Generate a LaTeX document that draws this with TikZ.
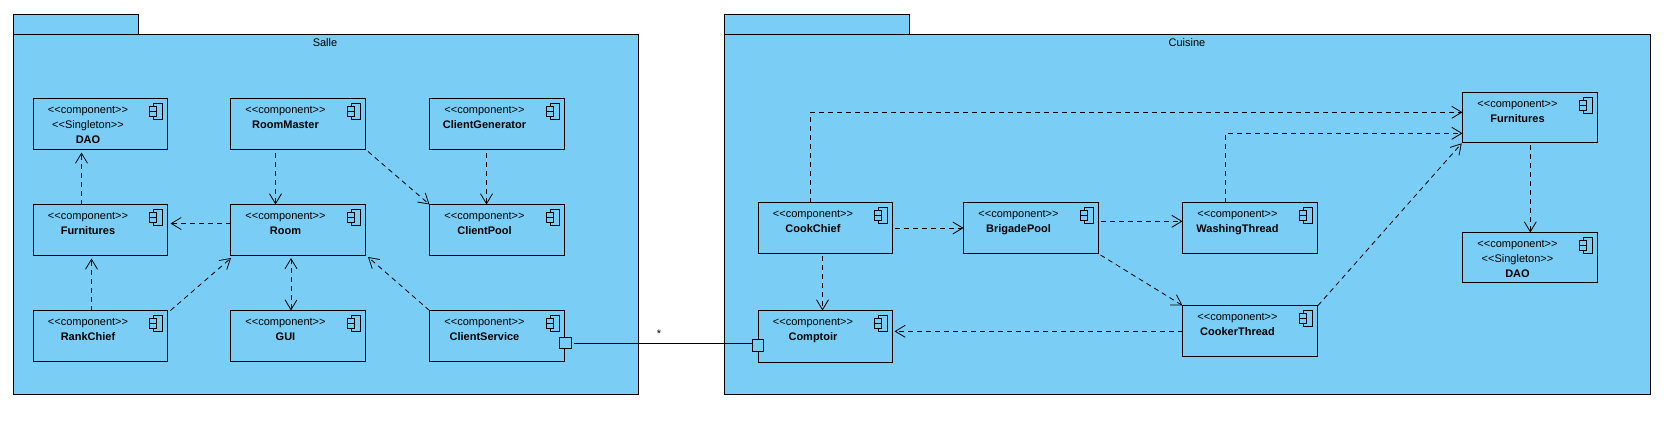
\documentclass[tikz,border=0pt]{standalone}
\usepackage{fontspec}
\newfontfamily\umlfont{Liberation Sans}
\usetikzlibrary{arrows.meta}
\definecolor{pkgblue}{RGB}{122,206,245}
\tikzset{
  umlline/.style={draw=black,line width=1pt},
  pkgbox/.style={umlline,fill=pkgblue,rectangle,inner sep=0pt,outer sep=0pt,anchor=north west},
  compbox/.style={umlline,fill=pkgblue,rectangle,inner sep=0pt,outer sep=0pt,anchor=north west,font=\umlfont},
  plainlabel/.style={inner sep=0pt,outer sep=0pt,font=\umlfont\fontsize{11}{13}\selectfont},
  portbox/.style={umlline,fill=pkgblue,rectangle,inner sep=0pt,outer sep=0pt},
  dep/.style={draw=black,line width=0.8pt,dash pattern=on 5pt off 4pt,-{Straight Barb[length=10pt,width=12pt,line width=0.8pt]}},
  depboth/.style={draw=black,line width=0.8pt,dash pattern=on 5pt off 4pt,{Straight Barb[length=10pt,width=12pt,line width=0.8pt]}-{Straight Barb[length=10pt,width=12pt,line width=0.8pt]}},
  assoc/.style={draw=black,line width=1pt}
}
\newcommand{\comp}[6]{%
  \node[compbox,minimum width=#4pt,minimum height=#5pt] (#1) at (#2,#3) {%
    \begin{minipage}[t][#5pt][t]{#4pt}\fontsize{11}{15}\selectfont
      \parindent=0pt\leftskip=0pt plus 1fil\rightskip=25pt plus 1fil\parfillskip=0pt
      \rule{0pt}{15pt}#6\par
    \end{minipage}};
  \draw[umlline,fill=pkgblue] ([xshift=-14pt,yshift=-5pt]#1.north east) rectangle ([xshift=-5pt,yshift=-21pt]#1.north east);
  \draw[umlline,fill=pkgblue] ([xshift=-18pt,yshift=-8pt]#1.north east) rectangle ([xshift=-11pt,yshift=-13pt]#1.north east);
  \draw[umlline,fill=pkgblue] ([xshift=-18pt,yshift=-13pt]#1.north east) rectangle ([xshift=-11pt,yshift=-18pt]#1.north east);
}
\newcommand{\cst}{<<component>>}
\begin{document}
\begin{tikzpicture}[x=1pt,y=-1pt]
\useasboundingbox (0,0) rectangle (1671,421);
% packages
\node[pkgbox,minimum width=125pt,minimum height=20pt] (salletab) at (13.5,14.5) {};
\node[pkgbox,minimum width=625pt,minimum height=360pt] (salle) at (13.5,34) {};
\node[plainlabel] (sallelabel) at (325,42.5) {Salle};
\node[pkgbox,minimum width=185pt,minimum height=20pt] (cuisinetab) at (724.5,14.5) {};
\node[pkgbox,minimum width=925.5pt,minimum height=360pt] (cuisine) at (724.5,34) {};
\node[plainlabel] (cuisinelabel) at (1187,42.5) {Cuisine};
% Salle components
\comp{dao}{33.5}{98.5}{134}{51}{\cst\par<<Singleton>>\par\textbf{DAO}}
\comp{roommaster}{230.5}{98.5}{135}{51}{\cst\par\textbf{RoomMaster}}
\comp{clientgen}{429.5}{98.5}{135}{51}{\cst\par\textbf{ClientGenerator}}
\comp{furn}{33.5}{204.5}{134}{51}{\cst\par\textbf{Furnitures}}
\comp{room}{230.5}{204.5}{135}{51}{\cst\par\textbf{Room}}
\comp{clientpool}{429.5}{204.5}{135}{51}{\cst\par\textbf{ClientPool}}
\comp{rankchief}{33.5}{310.5}{134}{51}{\cst\par\textbf{RankChief}}
\comp{gui}{230.5}{310.5}{135}{51}{\cst\par\textbf{GUI}}
\comp{clientservice}{429.5}{310.5}{135}{51}{\cst\par\textbf{ClientService}}
% Cuisine components
\comp{comptoir}{758.5}{310.5}{134}{52}{\cst\par\textbf{Comptoir}}
\comp{cookchief}{758.5}{202.5}{134}{51}{\cst\par\textbf{CookChief}}
\comp{brigade}{963.5}{202.5}{135}{51}{\cst\par\textbf{BrigadePool}}
\comp{washing}{1182.5}{202.5}{135}{51}{\cst\par\textbf{WashingThread}}
\comp{cooker}{1182.5}{305.5}{135}{51}{\cst\par\textbf{CookerThread}}
\comp{furncu}{1462.5}{92.5}{135}{50}{\cst\par\textbf{Furnitures}}
\comp{daocu}{1462.5}{232.5}{135}{50}{\cst\par<<Singleton>>\par\textbf{DAO}}
% ports
\node[portbox,minimum width=12.5pt,minimum height=11.5pt] (portservice) at (565.5,343) {};
\node[portbox,minimum width=11.5pt,minimum height=12pt] (portcomptoir) at (758,345.3) {};
% connectors Salle
\draw[dep] ([xshift=48pt]furn.north west) -- ([xshift=48pt,yshift=-3pt]dao.south west);
\draw[dep] ([xshift=45pt,yshift=-3pt]roommaster.south west) -- ([xshift=45pt]room.north west);
\draw[dep] ([yshift=-19pt]room.north west) -- ([xshift=3pt,yshift=-19pt]furn.north east);
\draw[dep] ([xshift=2.5pt,yshift=-2pt]roommaster.south east) -- (clientpool.north west);
\draw[dep] ([xshift=57pt,yshift=-3pt]clientgen.south west) -- ([xshift=57pt]clientpool.north west);
\draw[dep] ([xshift=58pt]rankchief.north west) -- ([xshift=58pt,yshift=-3pt]furn.south west);
\draw[dep] ([xshift=3pt]rankchief.north east) -- ([xshift=0.5pt,yshift=-2.5pt]room.south west);
\draw[depboth] ([xshift=60.5pt]gui.north west) -- ([xshift=60.5pt,yshift=-2.5pt]room.south west);
\draw[dep] (clientservice.north west) -- ([xshift=2.5pt,yshift=-1.5pt]room.south east);
% connectors Cuisine
\draw[dep] ([xshift=51.5pt]cookchief.north west) |- ([yshift=-19.8pt]furncu.north west);
\draw[dep] ([xshift=43pt]washing.north west) |- ([yshift=-40.8pt]furncu.north west);
\draw[dep] ([xshift=2.5pt,yshift=-25.5pt]cookchief.north east) -- ([yshift=-25.5pt]brigade.north west);
\draw[dep] ([xshift=2pt,yshift=-18.8pt]brigade.north east) -- ([yshift=-18.8pt]washing.north west);
\draw[dep] ([xshift=2pt,yshift=-1.5pt]brigade.south east) -- (cooker.north west);
\draw[dep] ([xshift=0.5pt]cooker.north east) -- ([xshift=-0.8pt,yshift=-0.8pt]furncu.south west);
\draw[dep] ([xshift=67.8pt,yshift=-2.5pt]furncu.south west) -- ([xshift=67.8pt]daocu.north west);
\draw[dep] ([xshift=64pt,yshift=-2.5pt]cookchief.south west) -- ([xshift=64pt]comptoir.north west);
\draw[dep] ([yshift=-25.8pt]cooker.north west) -- ([xshift=2pt,yshift=-20.8pt]comptoir.north east);
% assembly
\draw[assoc,shorten <=2pt] (portservice.east) -- (portservice.east -| portcomptoir.west);
\node[plainlabel] (mult) at (659,334) {*};
\end{tikzpicture}
\end{document}
